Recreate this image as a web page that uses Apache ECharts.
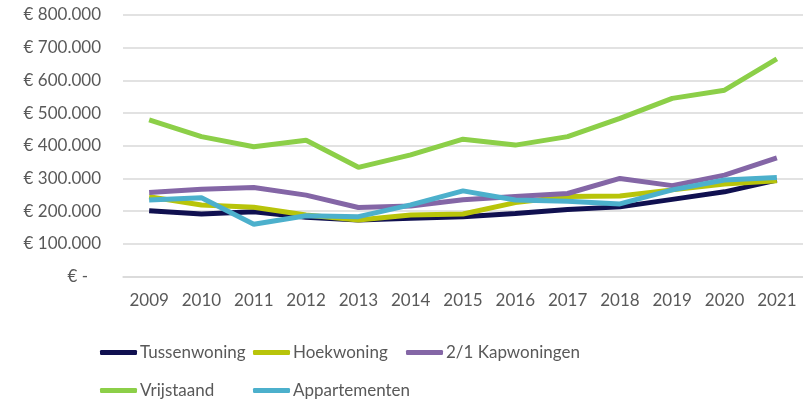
<!DOCTYPE html>
<html>
<head>
<meta charset="utf-8">
<script src="https://cdn.jsdelivr.net/npm/echarts@6/dist/echarts.min.js"></script>
<style>
  html, body { margin: 0; padding: 0; background: #ffffff; }
  #chart { width: 803px; height: 401px; }
</style>
</head>
<body>
<div id="chart"></div>
<script>
const years = ['2009','2010','2011','2012','2013','2014','2015','2016','2017','2018','2019','2020','2021'];
const tussenwoning = [201000, 191000, 198000, 181000, 173000, 178000, 183000, 193000, 205000, 213000, 236000, 259000, 295000];
const hoekwoning = [244000, 219000, 212000, 188000, 173000, 188000, 191000, 226000, 245000, 246000, 265000, 283000, 293000];
const kapwoningen = [257000, 267000, 272000, 249000, 211000, 216000, 235000, 245000, 254000, 300000, 278000, 310000, 363000];
const vrijstaand = [479000, 428000, 397000, 417000, 334000, 372000, 420000, 402000, 428000, 484000, 545000, 570000, 666000];
const appartementen = [234000, 241000, 160000, 186000, 183000, 219000, 262000, 234000, 230000, 222000, 265000, 295000, 303000];
const seriesNames = ['Tussenwoning', 'Hoekwoning', '2/1 Kapwoningen', 'Vrijstaand', 'Appartementen'];
const seriesData = [tussenwoning, hoekwoning, kapwoningen, vrijstaand, appartementen];
const colors = ['#101050', '#b8c40a', '#8466a6', '#8ccf48', '#4cb0cc'];

const fontFamily = 'Lato, "Open Sans", sans-serif';
const textColor = '#595959';

function fmt(v) {
  if (v === 0) return '€ -   ';
  return '€ ' + String(v).replace(/\B(?=(\d{3})+(?!\d))/g, '.');
}

const chart = echarts.init(document.getElementById('chart'), null, { renderer: 'canvas' });

const legendSlots = [[100, 339], [253, 339], [406, 339], [100, 377], [253, 377]];
const legends = seriesNames.map((name, i) => ({
  icon: 'roundRect',
  itemWidth: 37,
  itemHeight: 5,
  left: legendSlots[i][0],
  top: legendSlots[i][1],
  padding: 5,
  textStyle: { color: textColor, fontFamily: fontFamily, fontSize: 17, padding: [0, 0, 0, -2] },
  selectedMode: false,
  data: [name]
}));
legends.forEach(l => { l.left = l.left - 5; });

chart.setOption({
  animation: false,
  color: colors,
  grid: { left: 123, right: -4, top: 15, bottom: 124.5, containLabel: false },
  legend: legends,
  xAxis: {
    type: 'category',
    data: years,
    boundaryGap: true,
    axisLine: { show: true, lineStyle: { color: '#d9d9d9', width: 1.5 } },
    axisTick: { show: false },
    axisLabel: { color: textColor, fontFamily: fontFamily, fontSize: 17, margin: 16 }
  },
  yAxis: {
    type: 'value',
    min: 0,
    max: 800000,
    interval: 100000,
    axisLine: { show: false },
    axisTick: { show: false },
    splitLine: { lineStyle: { color: '#d9d9d9', width: 1.5 } },
    axisLabel: { color: textColor, fontFamily: fontFamily, fontSize: 17, margin: 22, formatter: fmt }
  },
  series: seriesNames.map((name, i) => ({
    name: name,
    type: 'line',
    data: seriesData[i],
    symbol: 'none',
    lineStyle: { width: 5, color: colors[i] },
    itemStyle: { color: colors[i] }
  }))
});
</script>
</body>
</html>
